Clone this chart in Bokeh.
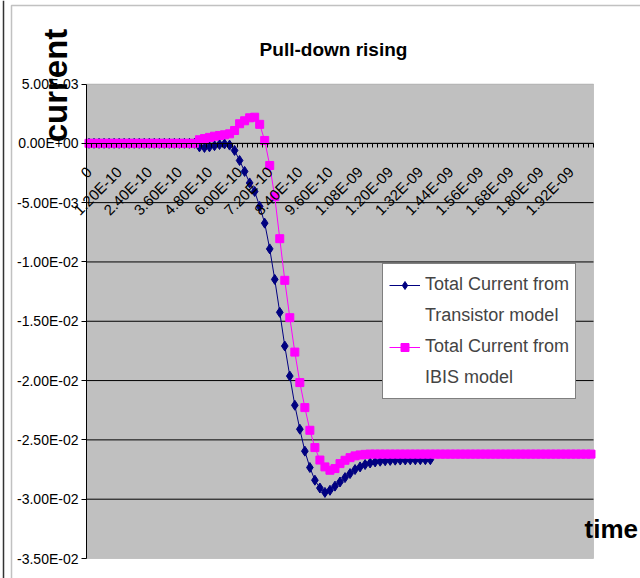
import math
from bokeh.plotting import figure
from bokeh.models import (Range1d, FixedTicker, LinearAxis, Label, Legend, LegendItem,
                          BoxAnnotation, Span)
from bokeh.embed import file_html
from bokeh.resources import INLINE

FONT = "Liberation Sans"

# ---- data (time step 2.0E-11 s per category, currents in A) ----
x_tick_labels = ["0", "1.20E-10", "2.40E-10", "3.60E-10", "4.80E-10", "6.00E-10",
                 "7.20E-10", "8.40E-10", "9.60E-10", "1.08E-09", "1.20E-09", "1.32E-09",
                 "1.44E-09", "1.56E-09", "1.68E-09", "1.80E-09", "1.92E-09"]
x_tick_index = [0, 6, 12, 18, 24, 30, 36, 42, 48, 54, 60, 66, 72, 78, 84, 90, 96]
n_categories = 101

y_ticks = [0.005, 0.0, -0.005, -0.01, -0.015, -0.02, -0.025, -0.03, -0.035]
y_tick_labels = ["5.00E-03", "0.00E+00", "-5.00E-03", "-1.00E-02", "-1.50E-02",
                 "-2.00E-02", "-2.50E-02", "-3.00E-02", "-3.50E-02"]

transistor_current = [
    0, 0, 0, 0, 0, 0, 0, 0, 0, 0, 0, 0, 0, 0, 0, 0, 0, 0, 0, 0, 0, 0,
    -0.00030, -0.00035, -0.00030, -0.00020, -0.00010, -0.00005, -0.00015, -0.00060,
    -0.00145, -0.00237, -0.00334, -0.00406, -0.00532, -0.00673, -0.00890, -0.01147,
    -0.01425, -0.01709, -0.01962, -0.02208, -0.02410, -0.02595, -0.02733, -0.02840,
    -0.02906, -0.02943, -0.02925, -0.02890, -0.02855, -0.02818, -0.02784, -0.02750,
    -0.02728, -0.02708, -0.02695, -0.02686, -0.02680, -0.02676, -0.02673, -0.02671,
    -0.02670, -0.02669, -0.02668, -0.02668, -0.02667, -0.02667, -0.02667]

ibis_current = [
    0, 0, 0, 0, 0, 0, 0, 0, 0, 0, 0, 0, 0, 0, 0, 0, 0, 0, 0, 0, 0, 0,
    0.00030, 0.00040, 0.00050, 0.00060, 0.00066, 0.00072, 0.00080, 0.00108,
    0.00165, 0.00190, 0.00215, 0.00220, 0.00160, 0.00024, -0.00187, -0.00450,
    -0.00804, -0.01155, -0.01470, -0.01760, -0.02017, -0.02228, -0.02419, -0.02565,
    -0.02670, -0.02728, -0.02756, -0.02742, -0.02700, -0.02672, -0.02650, -0.02635,
    -0.02627, -0.02622,
    -0.0262, -0.0262, -0.0262, -0.0262, -0.0262, -0.0262, -0.0262, -0.0262, -0.0262,
    -0.0262, -0.0262, -0.0262, -0.0262, -0.0262, -0.0262, -0.0262, -0.0262, -0.0262,
    -0.0262, -0.0262, -0.0262, -0.0262, -0.0262, -0.0262, -0.0262, -0.0262, -0.0262,
    -0.0262, -0.0262, -0.0262, -0.0262, -0.0262, -0.0262, -0.0262, -0.0262, -0.0262,
    -0.0262, -0.0262, -0.0262, -0.0262, -0.0262, -0.0262, -0.0262, -0.0262, -0.0262]

# category centres
x_transistor = [i + 0.5 for i in range(len(transistor_current))]
x_ibis = [i + 0.5 for i in range(len(ibis_current))]

# ---- layout (pixels in the 640x578 canvas) ----
W, H = 640, 578
AREA_L, AREA_R, AREA_T, AREA_B = 86, 593, 83.5, 558
y_lo, y_hi = y_ticks[-1], y_ticks[0]
ppx = (AREA_R - AREA_L) / n_categories
ppy = (AREA_B - AREA_T) / (y_hi - y_lo)
x_range = Range1d(-AREA_L / ppx, n_categories + (W - AREA_R) / ppx)
y_range = Range1d(y_lo - (H - AREA_B) / ppy, y_hi + AREA_T / ppy)

p = figure(width=W, height=H, x_range=x_range, y_range=y_range,
           x_axis_location=None, y_axis_location=None,
           output_backend="svg", toolbar_location=None,
           min_border=0, min_border_left=0, min_border_right=0,
           min_border_top=0, min_border_bottom=0)
p.title.visible = False
p.background_fill_color = "white"
p.border_fill_color = "white"
p.outline_line_color = None
p.xgrid.visible = False
p.ygrid.visible = False

# plot area
p.add_layout(BoxAnnotation(left=0, right=n_categories, bottom=y_lo, top=y_hi,
                           fill_color="#C0C0C0", fill_alpha=1.0,
                           line_color="#808080", line_width=1, level="underlay"))

# outer chart frame lines
p.add_layout(Span(location=3, dimension="height", location_units="screen",
                  line_color="#333333", line_width=1.5))
p.add_layout(BoxAnnotation(left=11, right=W + 20, bottom=-20, top=H - 5,
                           left_units="screen", right_units="screen",
                           bottom_units="screen", top_units="screen",
                           fill_alpha=0, line_color="#333333", line_width=1.5))

# horizontal gridlines
grid_ticks = y_ticks[1:-1]
p.segment(x0=[0] * len(grid_ticks), x1=[n_categories] * len(grid_ticks),
          y0=grid_ticks, y1=grid_ticks, line_color="#000000", line_width=1)

# y axis
yax = LinearAxis(fixed_location=0, bounds=(y_lo, y_hi),
                 ticker=FixedTicker(ticks=y_ticks),
                 major_label_overrides=dict(zip(y_ticks, y_tick_labels)),
                 minor_tick_line_color=None, major_tick_out=5, major_tick_in=0,
                 major_label_standoff=3, axis_line_color="#000000",
                 major_tick_line_color="#000000",
                 major_label_text_font=FONT, major_label_text_font_size="14px",
                 major_label_text_color="#000000")
p.add_layout(yax, "left")

# category axis crossing at 0
label_pos = [i + 0.5 for i in x_tick_index]
xax = LinearAxis(fixed_location=0, bounds=(0, n_categories),
                 ticker=FixedTicker(ticks=label_pos, minor_ticks=list(range(n_categories + 1))),
                 major_label_overrides=dict(zip(label_pos, x_tick_labels)),
                 major_label_orientation=math.pi / 4,
                 major_tick_line_color=None, major_tick_out=0, major_tick_in=0,
                 minor_tick_line_color="#000000", minor_tick_out=4, minor_tick_in=0,
                 axis_line_color="#000000", major_label_standoff=22,
                 major_label_text_font=FONT, major_label_text_font_size="15px",
                 major_label_text_color="#000000")
p.add_layout(xax, "below")

# series
rb_line = p.line(x_transistor, transistor_current, line_color="#000080", line_width=1)
rb_pts = p.scatter(x_transistor, transistor_current, marker="diamond", size=10,
                   fill_color="#000080", line_color="#000080")
rp_line = p.line(x_ibis, ibis_current, line_color="#FF00FF", line_width=1)
rp_pts = p.scatter(x_ibis, ibis_current, marker="square", size=8,
                   fill_color="#FF00FF", line_color="#FF00FF")

legend = Legend(items=[
    LegendItem(label="Total Current from", renderers=[rb_line, rb_pts]),
    LegendItem(label="Transistor model", renderers=[]),
    LegendItem(label="Total Current from", renderers=[rp_line, rp_pts]),
    LegendItem(label="IBIS model", renderers=[]),
], location=(382, H - 399), orientation="vertical",
    border_line_color="#000000", border_line_width=1,
    background_fill_color="white", background_fill_alpha=1.0,
    label_text_font=FONT, label_text_font_size="18px", label_height=29,
    glyph_width=31, glyph_height=20, label_standoff=5, padding=6, spacing=2, margin=0)
p.add_layout(legend)

p.add_layout(Label(x=333, y=H - 55 + 5.7, x_units="screen", y_units="screen",
                   text="Pull-down rising",
                   text_align="center", text_baseline="alphabetic", text_font=FONT,
                   text_font_style="bold", text_font_size="19px", text_color="#000000"))
p.add_layout(Label(x=55, y=H - 85, x_units="screen", y_units="screen", text="current",
                   angle=math.pi / 2, text_align="center", text_baseline="alphabetic",
                   text_font=FONT, text_font_style="bold", text_font_size="33px",
                   text_color="#000000"))
p.add_layout(Label(x=584, y=H - 536 + 7.8, x_units="screen", y_units="screen", text="time",
                   text_align="left", text_baseline="alphabetic", text_font=FONT,
                   text_font_style="bold", text_font_size="26px", text_color="#000000"))

open("out.html", "w").write(file_html(p, INLINE))
